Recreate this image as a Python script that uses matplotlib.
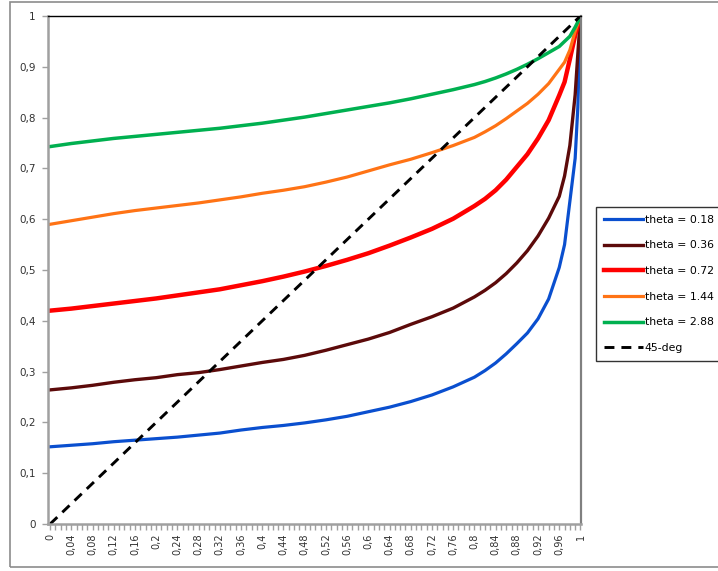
# -*- coding: utf-8 -*-
"""
Curves for different theta values against the 45-degree line
(Excel style chart, comma decimals)
"""
import numpy as np
import matplotlib.pyplot as plt
from matplotlib.patches import Rectangle

# Data
x_vals = [0, 0.04, 0.08, 0.12, 0.16, 0.2, 0.24, 0.28, 0.32, 0.36, 0.4, 0.44,
          0.48, 0.52, 0.56, 0.6, 0.64, 0.68, 0.72, 0.76, 0.8, 0.82, 0.84,
          0.86, 0.88, 0.9, 0.92, 0.94, 0.96, 0.97, 0.98, 0.99, 0.995, 1.0]

theta_018 = [0.152, 0.155, 0.158, 0.162, 0.165, 0.168, 0.171, 0.175, 0.179,
             0.185, 0.190, 0.194, 0.199, 0.205, 0.212, 0.221, 0.230, 0.241,
             0.254, 0.270, 0.289, 0.302, 0.317, 0.335, 0.355, 0.376, 0.404,
             0.443, 0.505, 0.550, 0.635, 0.720, 0.820, 1.0]
theta_036 = [0.264, 0.268, 0.273, 0.279, 0.284, 0.288, 0.294, 0.298, 0.304,
             0.311, 0.318, 0.324, 0.332, 0.342, 0.353, 0.364, 0.377, 0.393,
             0.408, 0.425, 0.447, 0.460, 0.475, 0.493, 0.514, 0.538, 0.567,
             0.602, 0.645, 0.685, 0.745, 0.845, 0.925, 1.0]
theta_072 = [0.420, 0.424, 0.429, 0.434, 0.439, 0.444, 0.450, 0.456, 0.462,
             0.470, 0.478, 0.487, 0.497, 0.508, 0.520, 0.533, 0.548, 0.564,
             0.581, 0.601, 0.626, 0.640, 0.657, 0.678, 0.703, 0.728, 0.759,
             0.795, 0.844, 0.870, 0.915, 0.962, 0.982, 1.0]
theta_144 = [0.590, 0.597, 0.604, 0.611, 0.617, 0.622, 0.627, 0.632, 0.638,
             0.644, 0.651, 0.657, 0.664, 0.673, 0.683, 0.695, 0.707, 0.718,
             0.731, 0.745, 0.761, 0.772, 0.784, 0.798, 0.813, 0.828, 0.846,
             0.867, 0.895, 0.909, 0.933, 0.970, 0.985, 1.0]
theta_288 = [0.743, 0.749, 0.754, 0.759, 0.763, 0.767, 0.771, 0.775, 0.779,
             0.784, 0.789, 0.795, 0.801, 0.808, 0.815, 0.822, 0.829, 0.837,
             0.846, 0.855, 0.865, 0.871, 0.878, 0.886, 0.895, 0.905, 0.916,
             0.928, 0.940, 0.950, 0.960, 0.978, 0.988, 1.0]
deg45_x = [0, 1]
deg45_y = [0, 1]

labels = ["theta = 0.18", "theta = 0.36", "theta = 0.72",
          "theta = 1.44", "theta = 2.88", "45-deg"]
colors = ["#0A4FCF", "#5C0A0A", "#FF0000", "#FF7315", "#00B050"]
widths = [2.3, 2.4, 3.2, 2.3, 2.5]

x_ticks = [round(i * 0.04, 2) for i in range(26)]
y_ticks = [round(i * 0.1, 1) for i in range(11)]


def comma(v):
    s = f"{v:g}"
    return s.replace(".", ",")


fig = plt.figure(figsize=(7.18, 5.71), dpi=100)
ax = fig.add_axes([48 / 718, 1 - 524 / 571, 533 / 718, 508 / 571])

# outer chart border
fig.patches.append(Rectangle((10 / 718, 1 - 567 / 571), 0.999, 565 / 571,
                             transform=fig.transFigure, fill=False,
                             edgecolor="#8C8C8C", linewidth=1.2))

series = [theta_018, theta_036, theta_072, theta_144, theta_288]
for y, c, w, lab in zip(series, colors, widths, labels):
    ax.plot(x_vals, y, color=c, linewidth=w, label=lab,
            solid_joinstyle="round")
ax.plot(deg45_x, deg45_y, color="black", linewidth=2.1, dashes=(3.4, 2.4),
        label=labels[-1])

ax.set_xlim(-0.004, 1.001)
ax.set_ylim(0, 1)

ax.set_xticks(x_ticks)
ax.set_xticklabels([comma(v) for v in x_ticks], rotation=90, fontsize=7,
                   color="#333333")
ax.set_xticks(np.arange(0, 1.001, 0.01), minor=True)
ax.set_yticks(y_ticks)
ax.set_yticklabels([comma(v) for v in y_ticks], fontsize=7.5, color="#333333")
ax.tick_params(axis="both", which="both", direction="out", length=4,
               width=1, color="#A0A0A0")
ax.tick_params(axis="y", pad=5)
ax.tick_params(axis="x", pad=3)

for side in ["left", "bottom"]:
    ax.spines[side].set_color("#A0A0A0")
    ax.spines[side].set_linewidth(1.8)
ax.spines["top"].set_color("black")
ax.spines["top"].set_linewidth(1.0)
ax.spines["right"].set_color("#808080")
ax.spines["right"].set_linewidth(1.6)

leg = fig.legend(loc="upper left", bbox_to_anchor=(596 / 718, 1 - 207 / 571),
                 fontsize=7.8, frameon=True, fancybox=False, handlelength=3.6,
                 handletextpad=0.2, labelspacing=1.45, borderpad=0.7,
                 borderaxespad=0)
leg.get_frame().set_edgecolor("black")
leg.get_frame().set_linewidth(1.0)

fig.savefig("out.png", dpi=100)
